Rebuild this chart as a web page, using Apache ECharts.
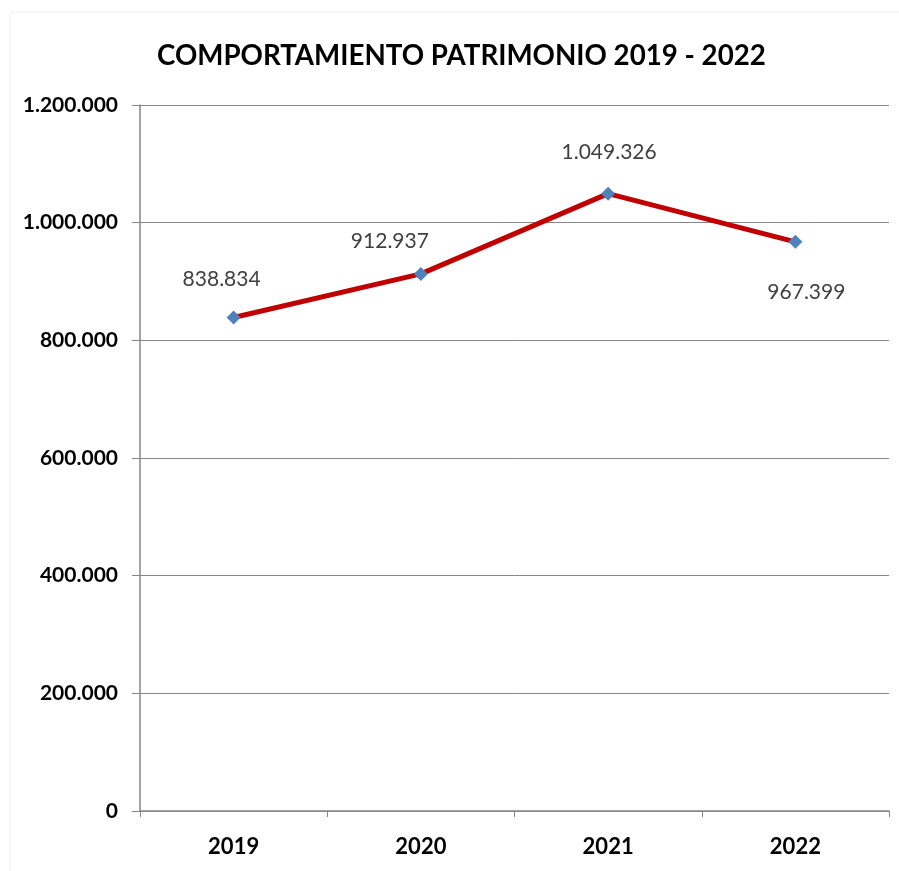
<!DOCTYPE html>
<html>
<head>
<meta charset="utf-8">
<script src="https://cdn.jsdelivr.net/npm/echarts@6/dist/echarts.min.js"></script>
<style>
  html, body { margin: 0; padding: 0; background: #fff; }
  #chart { width: 899px; height: 871px; }
</style>
</head>
<body>
<div id="chart"></div>
<script>
// Equity by year
const years = ['2019', '2020', '2021', '2022'];
const patrimonio = [838834, 912937, 1049326, 967399];
const yTicks = { min: 0, max: 1200000, interval: 200000 };
const titleText = 'COMPORTAMIENTO PATRIMONIO 2019 - 2022';

// Spanish-style thousands separator
function fmt(v) {
  return String(Math.round(v)).replace(/\B(?=(\d{3})+(?!\d))/g, '.');
}

// label offsets from each marker centre (above, except the last one below)
const labelOffsets = [[-12, -38], [-31, -33], [1, -41], [11, 50]];

const chart = echarts.init(document.getElementById('chart'), null, { renderer: 'canvas' });

chart.setOption({
  backgroundColor: '#ffffff',
  animation: false,
  title: {
    text: titleText,
    left: 152,
    top: 37,
    textStyle: {
      fontFamily: 'Lato, "Open Sans", sans-serif',
      fontWeight: 'bold',
      fontSize: 27.7,
      color: '#000000'
    }
  },
  graphic: [{
    type: 'rect',
    shape: { x: 10, y: 12, width: 900, height: 870, r: 4 },
    style: { fill: 'none', stroke: '#ececec', lineWidth: 1 },
    silent: true
  }],
  grid: { left: 140, right: 10, top: 105, bottom: 60, containLabel: false },
  xAxis: {
    type: 'category',
    data: years,
    boundaryGap: true,
    axisLine: { lineStyle: { color: '#868686', width: 1.5 } },
    axisTick: { show: true, length: 6, lineStyle: { color: '#868686' } },
    axisLabel: {
      margin: 25,
      fontFamily: 'Lato, "Open Sans", sans-serif',
      fontWeight: 'bold',
      fontSize: 22,
      color: '#000000'
    },
    splitLine: { show: false }
  },
  yAxis: {
    type: 'value',
    min: yTicks.min,
    max: yTicks.max,
    interval: yTicks.interval,
    axisLine: { show: true, lineStyle: { color: '#868686', width: 1.5 } },
    axisTick: { show: true, length: 8, lineStyle: { color: '#868686' } },
    axisLabel: {
      margin: 22,
      formatter: fmt,
      fontFamily: 'Lato, "Open Sans", sans-serif',
      fontWeight: 'bold',
      fontSize: 21,
      color: '#000000'
    },
    splitLine: { show: true, lineStyle: { color: '#868686', width: 1 } }
  },
  series: [{
    type: 'line',
    data: patrimonio.map((v, i) => ({
      value: v,
      label: { offset: labelOffsets[i] }
    })),
    symbol: 'diamond',
    symbolSize: 14,
    itemStyle: { color: '#4F81BD' },
    lineStyle: { color: '#C00000', width: 5 },
    z: 3,
    label: {
      show: true,
      position: 'inside',
      formatter: p => fmt(p.value),
      fontFamily: 'Lato, "Open Sans", sans-serif',
      fontSize: 21,
      color: '#404040'
    }
  }]
});
</script>
</body>
</html>
